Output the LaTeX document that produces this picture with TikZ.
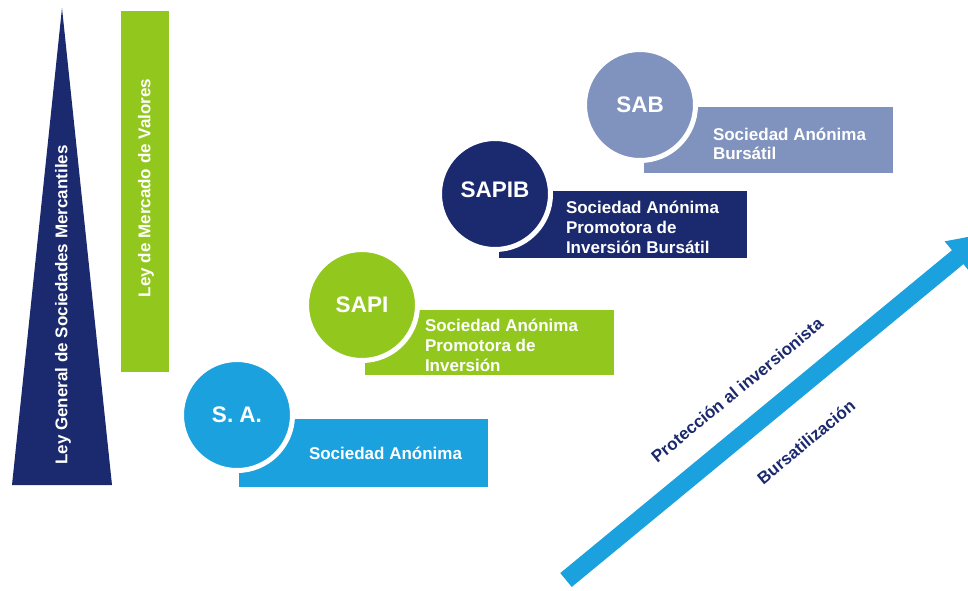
\documentclass[tikz,border=0pt]{standalone}
\usepackage{fontspec}
\setmainfont{Liberation Sans}
\usetikzlibrary{arrows.meta}
\definecolor{navy}{RGB}{27,42,110}
\definecolor{lblue}{RGB}{27,161,222}
\definecolor{lime}{RGB}{146,200,30}
\definecolor{slate}{RGB}{128,146,190}
\begin{document}
\begin{tikzpicture}[x=1pt,y=-1pt,
  every node/.style={inner sep=0pt, outer sep=0pt},
  txt/.style={font=\fontsize{17}{20}\selectfont\bfseries, text=white, align=left},
  bandbox/.style={rectangle, minimum width=249pt, anchor=north west},
  disc/.style={circle, minimum size=111pt, draw=white, line width=5pt, text=white,
    font=\fontsize{22.5}{24}\selectfont\bfseries},
  bigarrow/.style={draw=lblue, line width=18pt, -{Triangle[length=38pt,width=38pt]}},
  arrlabel/.style={font=\fontsize{17}{20}\selectfont\bfseries, text=navy, rotate=39.5}]
\clip (0,0) rectangle (968,590);
\fill[white] (0,0) rectangle (968,590);
% law triangle and bar
\fill[navy] (12,485) -- (62,8) -- (112,485) -- cycle;
\node[txt, rotate=90] (lgsm) at (63,305) {Ley General de Sociedades Mercantiles};
\node[rectangle, fill=lime, minimum width=48pt, minimum height=361pt, anchor=north west] (lmvbar) at (121,11) {};
\node[txt, rotate=90] (lmv) at (146,188) {Ley de Mercado de Valores};
% S.A.
\node[bandbox, fill=lblue, minimum height=68pt] (saBand) at (239,419) {};
\node[disc, fill=lblue] (saDisc) at (237,415) {S. A.};
\node[txt, anchor=west] (saTxt) at (309,453) {Sociedad Anónima};
% SAPI
\node[bandbox, fill=lime, minimum height=65pt] (sapiBand) at (365,310) {};
\node[disc, fill=lime] (sapiDisc) at (362,305) {SAPI};
\node[txt, anchor=west] (sapiTxt) at (425,345) {Sociedad Anónima\\Promotora de\\Inversión};
% SAPIB
\node[bandbox, fill=navy, minimum height=67pt, minimum width=248pt] (sapibBand) at (499,191) {};
\node[disc, fill=navy] (sapibDisc) at (495,194) {};
\node[font=\fontsize{22.5}{24}\selectfont\bfseries, text=white] (sapibLbl) at (495,190) {SAPIB};
\node[txt, anchor=west] (sapibTxt) at (566,227) {Sociedad Anónima\\Promotora de\\Inversión Bursátil};
% SAB
\node[bandbox, fill=slate, minimum height=66pt] (sabBand) at (644,107) {};
\node[disc, fill=slate] (sabDisc) at (640,105) {SAB};
\node[txt, anchor=west, font=\fontsize{17}{18.5}\selectfont\bfseries] (sabTxt) at (713,144) {Sociedad Anónima\\Bursátil};
% arrow
\coordinate (aS) at (566,580);
\coordinate (aE) at (987,233);
\draw[bigarrow] (aS) -- (aE);
\node[arrlabel] (prot) at (737,390) {Protección al inversionista};
\node[arrlabel] (burs) at (806,442) {Bursatilización};
\end{tikzpicture}
\end{document}
